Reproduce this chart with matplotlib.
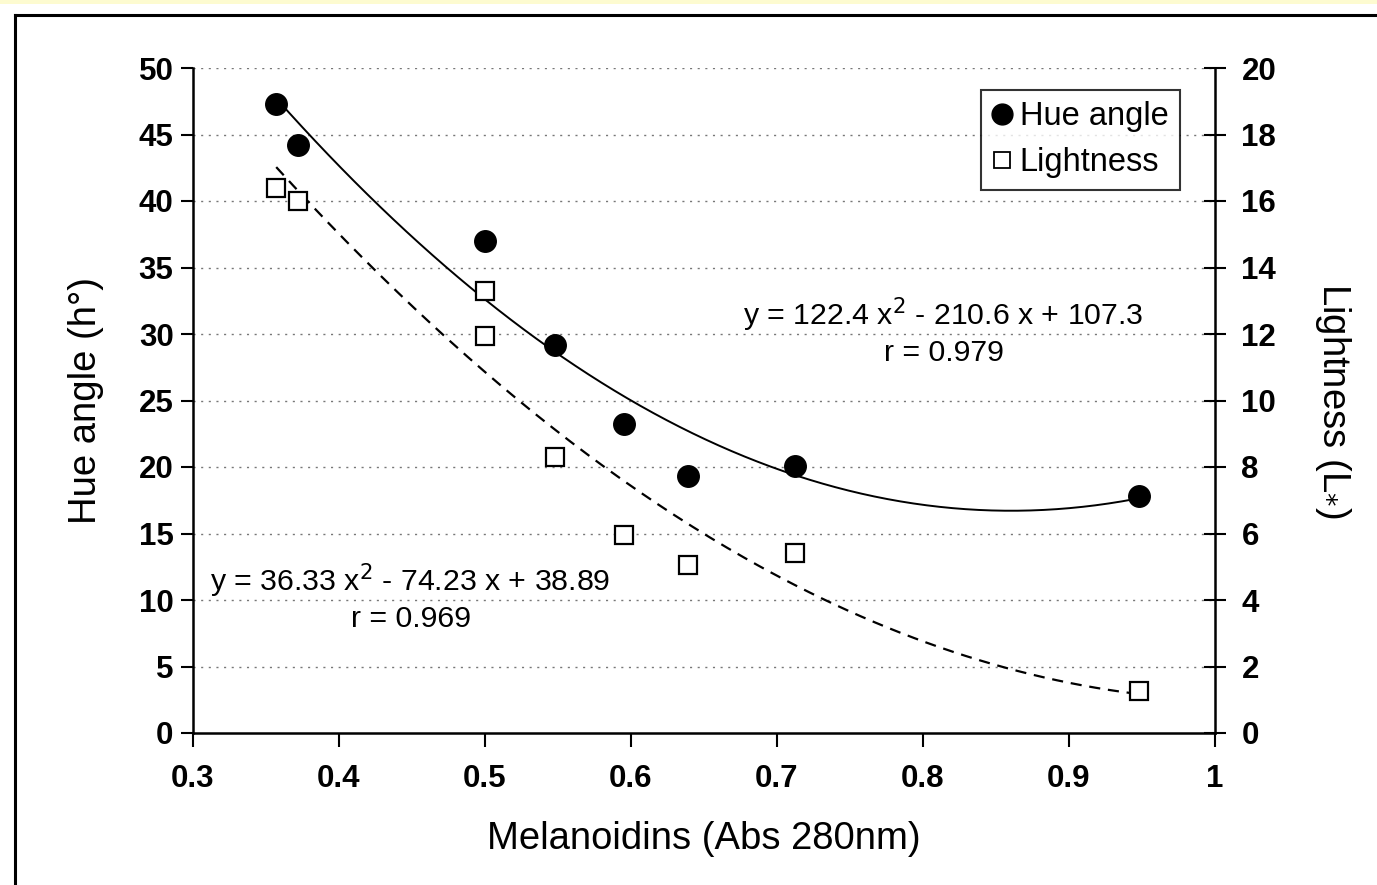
import matplotlib
matplotlib.use("Agg")
import matplotlib.pyplot as plt
import numpy as np
from matplotlib.lines import Line2D
from matplotlib.patches import Rectangle

plt.rcParams['font.family'] = ['Liberation Sans', 'DejaVu Sans']

# Data
melanoidins_hue = [0.357, 0.372, 0.500, 0.548, 0.595, 0.639, 0.712, 0.948]
hue_angle = [47.3, 44.2, 37.0, 29.2, 23.2, 19.3, 20.1, 17.8]
melanoidins_light = [0.357, 0.372, 0.500, 0.500, 0.548, 0.595, 0.639, 0.712, 0.948]
lightness = [16.4, 16.0, 13.3, 11.95, 8.3, 5.95, 5.05, 5.4, 1.25]
hue_fit = [122.4, -210.6, 107.3]
light_fit = [36.33, -74.23, 38.89]
x_ticks = [0.3, 0.4, 0.5, 0.6, 0.7, 0.8, 0.9, 1.0]
x_tick_labels = ['0.3', '0.4', '0.5', '0.6', '0.7', '0.8', '0.9', '1']
hue_ticks = [0, 5, 10, 15, 20, 25, 30, 35, 40, 45, 50]
light_ticks = [0, 2, 4, 6, 8, 10, 12, 14, 16, 18, 20]

fig = plt.figure(figsize=(13.77, 8.85), dpi=100)
# yellow strip at top and frame lines
fig.patches.append(Rectangle((0, 1 - 4/885), 1, 4/885, transform=fig.transFigure,
                             facecolor='#fdfbd0', edgecolor='none', zorder=0))
fig.lines.append(Line2D([15/1377, 1], [1 - 15/885, 1 - 15/885], transform=fig.transFigure,
                        color='black', lw=2.2))
fig.lines.append(Line2D([15/1377, 15/1377], [0, 1 - 15/885], transform=fig.transFigure,
                        color='black', lw=2.2))

ax = fig.add_axes([193/1377, 1 - 733/885, (1215 - 193)/1377, (733 - 68)/885])
ax2 = ax.twinx()

ax.set_xlim(0.3, 1.0)
ax.set_ylim(0, 50)
ax2.set_ylim(0, 20)

# grid
for t in hue_ticks[1:]:
    ax.axhline(t, color='#777777', lw=1.0, ls=(0, (1.5, 4)), zorder=1)

# fits
xh = np.linspace(min(melanoidins_hue), max(melanoidins_hue), 200)
ax.plot(xh, np.polyval(hue_fit, xh), color='black', lw=1.4, zorder=2)
xl = np.linspace(min(melanoidins_light), max(melanoidins_light), 200)
ax2.plot(xl, np.polyval(light_fit, xl), color='black', lw=1.6, ls=(0, (5, 3.5)), zorder=2)

ax.plot(melanoidins_hue, hue_angle, 'o', color='black', ms=15.5, zorder=3)
ax2.plot(melanoidins_light, lightness, 's', mfc='white', mec='black', mew=1.6, ms=13, zorder=3)

ax.set_xticks(x_ticks)
ax.set_xticklabels(x_tick_labels)
ax.set_yticks(hue_ticks)
ax2.set_yticks(light_ticks)

ax.spines['top'].set_visible(False)
ax2.spines['top'].set_visible(False)
ax.spines['right'].set_visible(False)
ax2.spines['left'].set_visible(False)
ax2.spines['bottom'].set_visible(False)
for sp in [ax.spines['left'], ax.spines['bottom'], ax2.spines['right']]:
    sp.set_linewidth(1.8)
    sp.set_color('black')

ax.tick_params(axis='x', direction='out', length=10, width=1.5, pad=12, labelsize=22.5)
ax.tick_params(axis='y', direction='out', length=9, width=1.5, pad=5, labelsize=22.5)
ax2.tick_params(axis='y', direction='inout', length=16, width=1.5, pad=11, labelsize=22.5)
for lab in ax.get_xticklabels() + ax.get_yticklabels() + ax2.get_yticklabels():
    lab.set_fontweight('bold')

ax.set_xlabel('Melanoidins (Abs 280nm)', fontsize=27.5, labelpad=20)
ax.set_ylabel('Hue angle (h°)', fontsize=27.5, labelpad=25)
ax2.set_ylabel('Lightness (L$_{*}$)', fontsize=27.5, rotation=270, labelpad=55)

ax.text(0.814, 30.2, 'y = 122.4 x$^2$ - 210.6 x + 107.3\nr = 0.979', ha='center', va='center',
        fontsize=21.8, linespacing=1.2, zorder=4)
ax.text(0.449, 10.2, 'y = 36.33 x$^2$ - 74.23 x + 38.89\nr = 0.969', ha='center', va='center',
        fontsize=21.8, linespacing=1.2, zorder=4)

handles = [Line2D([], [], marker='o', color='black', ls='none', ms=15),
           Line2D([], [], marker='s', mfc='white', mec='black', mew=1.3, ls='none', ms=12)]
leg = ax2.legend(handles, ['Hue angle', 'Lightness'], loc='upper right',
                 bbox_to_anchor=(1 - 35/1022, 1 - 22/665), fontsize=23.5,
                 frameon=True, fancybox=False, handlelength=0.6, handletextpad=0.25,
                 borderpad=0.35, labelspacing=0.45, borderaxespad=0)
leg.get_frame().set_edgecolor('black')
leg.get_frame().set_linewidth(1.5)

fig.savefig('out.png', dpi=100)
